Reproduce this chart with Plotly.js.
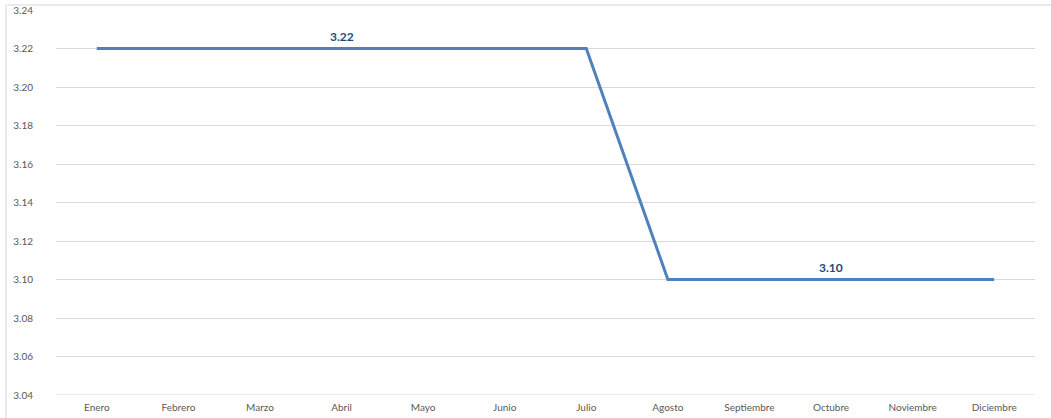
<!DOCTYPE html>
<html>
<head>
<meta charset="utf-8">
<script src="https://cdn.plot.ly/plotly-3.0.1.min.js"></script>
<style>html,body{margin:0;padding:0;background:#fff;}#chart{width:1051px;height:418px;}</style>
</head>
<body>
<div id="chart"></div>
<script>
const months = ["Enero","Febrero","Marzo","Abril","Mayo","Junio","Julio","Agosto","Septiembre","Octubre","Noviembre","Diciembre"];
const values = [3.22,3.22,3.22,3.22,3.22,3.22,3.22,3.10,3.10,3.10,3.10,3.10];
const yTicks = [3.04,3.06,3.08,3.10,3.12,3.14,3.16,3.18,3.20,3.22,3.24];
const labelPoints = [{x:"Abril", y:3.22, text:"3.22"},{x:"Octubre", y:3.10, text:"3.10"}];

const trace = {
  x: months, y: values, type: "scatter", mode: "lines",
  line: {color: "#4F81BD", width: 3}, hoverinfo: "x+y"
};
const layout = {
  width: 1051, height: 418,
  margin: {l: 56, r: 16, t: 10, b: 23},
  paper_bgcolor: "#fff", plot_bgcolor: "#fff",
  showlegend: false,
  font: {family: "Lato, 'Open Sans', sans-serif", size: 10, color: "#595959"},
  xaxis: {
    type: "category", range: [-0.5, 11.5], showgrid: false, zeroline: false,
    showline: false, ticks: "outside", ticklen: 3, tickcolor: "rgba(0,0,0,0)",
    tickfont: {size: 10, color: "#595959"}, fixedrange: true
  },
  yaxis: {
    range: [3.04, 3.24], tickvals: yTicks, ticktext: yTicks.map(v => v.toFixed(2)),
    showgrid: true, gridcolor: "#D9D9D9", gridwidth: 1, zeroline: false, showline: false,
    ticks: "outside", ticklen: 20, tickcolor: "rgba(0,0,0,0)",
    tickfont: {size: 10, color: "#595959"}, fixedrange: true
  },
  annotations: labelPoints.map(p => ({
    x: p.x, y: p.y, text: "<b>" + p.text + "</b>", showarrow: false,
    yanchor: "bottom", yshift: 3, font: {size: 12, color: "#1F497D", family: "Lato, 'Open Sans', sans-serif"}
  })),
  shapes: [
    {type: "line", xref: "paper", yref: "y", x0: 0, x1: 1, y0: yTicks[0], y1: yTicks[0], line: {color: "#D9D9D9", width: 1}, layer: "below"},
    {type: "line", xref: "paper", yref: "paper", x0: -0.051, x1: -0.051, y0: -0.07, y1: 1.013, line: {color: "#D9D9D9", width: 1}},
    {type: "line", xref: "paper", yref: "paper", x0: -0.051, x1: 1.02, y0: 1.013, y1: 1.013, line: {color: "#D9D9D9", width: 1}}
  ]
};
Plotly.newPlot("chart", [trace], layout, {displayModeBar: false, staticPlot: true});
</script>
</body>
</html>
